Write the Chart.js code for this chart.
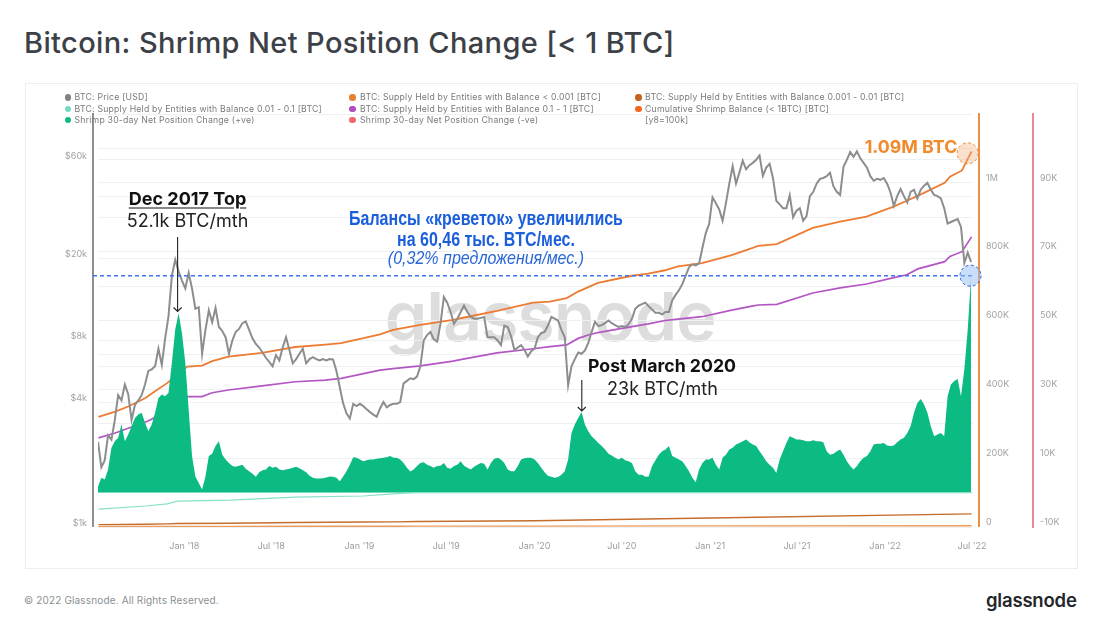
<!DOCTYPE html>
<html><head><meta charset="utf-8">
<script src="https://cdn.jsdelivr.net/npm/chart.js@4"></script>
<style>
html,body{margin:0;padding:0;background:#fff;}
body{width:1100px;height:634px;position:relative;overflow:hidden;font-family:Inter,sans-serif;}
.abs{position:absolute;white-space:nowrap;}
#chart{position:absolute;left:0;top:0;z-index:2;}
#over{position:absolute;left:0;top:0;z-index:3;}
.cx{transform:translate(-50%,-50%);z-index:4;}
.lg{font-size:8.7px;color:#7a7a7a;line-height:11px;z-index:4;letter-spacing:.024em;}
.dot{position:absolute;width:6.5px;height:6.5px;border-radius:50%;z-index:4;}
.blue{font-family:'Liberation Sans';font-weight:700;font-size:19.5px;color:#1b5fdc;}
</style></head><body>
<div class="abs" style="left:24px;top:25px;font-size:29px;font-weight:500;color:#3c4147;letter-spacing:.38px;">Bitcoin: Shrimp Net Position Change [&lt; 1 BTC]</div>
<div class="abs" style="left:25px;top:83px;width:1051px;height:484px;border:1px solid #eceef0;"></div>
<div class="abs" style="left:550px;top:316px;transform:translate(-50%,-50%);font-size:68px;font-weight:600;color:#dddddd;letter-spacing:-1px;z-index:1;">glassnode</div>
<canvas id="chart" width="1100" height="634" style="width:1100px;height:634px;"></canvas>
<svg id="over" width="1100" height="634">
  <line x1="93" y1="275.7" x2="972" y2="275.7" stroke="#3f74f0" stroke-width="1.6" stroke-dasharray="4 3"/>
  <circle cx="970.5" cy="275.7" r="10.5" fill="rgba(150,190,245,.5)" stroke="#2a5ce0" stroke-width="1" stroke-dasharray="3 2.5"/>
  <circle cx="967.7" cy="153.3" r="10.5" fill="rgba(245,180,130,.4)" stroke="#ea8a3c" stroke-width="1" stroke-dasharray="3 2.5"/>
  <g stroke="#222" stroke-width="1.1" fill="none">
    <path d="M177.6 237V311.5M173.6 307.5L177.6 311.5L181.6 307.5"/>
    <path d="M581.8 380V411M577.8 407L581.8 411L585.8 407"/>
  </g>
</svg>
<div class="abs cx" style="left:187.5px;top:198px;font-size:18px;font-weight:700;color:#111;text-decoration:underline;text-underline-offset:3px;">Dec 2017 Top</div>
<div class="abs cx" style="left:187.5px;top:219.5px;font-size:18px;color:#222;">52.1k BTC/mth</div>
<div class="abs cx blue" style="left:485.5px;top:218px;transform:translate(-50%,-50%) scaleX(.82);">Балансы «креветок» увеличились</div>
<div class="abs cx blue" style="left:485.5px;top:239px;transform:translate(-50%,-50%) scaleX(.82);">на 60,46 тыс. BTC/мес.</div>
<div class="abs cx" style="left:485.5px;top:258px;font-family:'Liberation Sans';font-size:18px;font-style:italic;color:#2a68d8;transform:translate(-50%,-50%) scaleX(.89);">(0,32% предложения/мес.)</div>
<div class="abs cx" style="left:911px;top:146px;font-size:17.8px;font-weight:700;color:#f08a2c;">1.09M BTC</div>
<div class="abs cx" style="left:662px;top:365px;font-size:17.7px;font-weight:700;color:#111;">Post March 2020</div>
<div class="abs cx" style="left:662.5px;top:387.5px;font-size:18px;color:#222;">23k BTC/mth</div>
<div class="abs" style="left:24px;top:594px;font-size:10px;color:#8a8f94;letter-spacing:.15px;">© 2022 Glassnode. All Rights Reserved.</div>
<div class="abs" style="left:986px;top:589px;font-size:18.5px;font-weight:600;color:#23272b;letter-spacing:-.2px;">glassnode</div>
<div id="legend"></div>
<script>
const startDate = "2017-07-05";
const stepDays = 7;

const priceUsd = [
2580,1950,2100,2780,2650,3290,4350,4100,4900,4400,
3300,3900,4100,4350,4900,5700,5800,6000,7300,6100,
8200,10500,16500,19700,17300,15600,14300,17000,14300,11400,
11600,6900,9000,11200,9800,11500,9300,8900,8300,6900,
8000,8800,9100,9700,9900,9000,8200,7700,7400,7000,
6600,6300,6000,6800,6400,7400,8300,7200,6200,6500,
6900,7300,6200,6500,6650,6500,6400,6500,6400,6500,
6480,5700,4750,3970,3550,3350,3950,3850,3950,3850,
3720,3600,3500,3420,3750,4030,3800,3900,3950,3950,
4030,4960,5100,5250,5200,5350,6000,8000,8500,8800,
8100,7900,9650,13000,12200,11000,9650,10200,11000,11800,
11000,10400,10200,10200,10300,10400,8300,8300,8300,8000,
7600,9450,9300,8400,7200,7400,7600,7200,6700,7100,
7300,8300,8700,8800,9450,10400,10200,10000,9000,8300,
4850,6000,6500,7000,6900,7160,7800,8800,9850,9400,
9500,9700,10000,9700,9500,9300,9400,9300,9600,10200,
11400,11800,12000,12200,11700,11300,10900,10900,10700,11000,
11000,12500,13300,14000,15000,16500,18100,18700,18500,18900,
22500,26500,29400,39500,37000,34500,30400,37000,46000,56000,
46000,52000,59400,54000,56500,58000,60000,63000,50200,55000,
57400,49000,38000,36500,35000,35000,40400,31600,34000,35000,
30400,32000,40000,42000,46000,48500,49000,50000,52000,44700,
42000,40600,55500,60000,65400,62000,66000,61000,58000,55000,
50000,47500,48500,48000,49000,46000,41700,35900,40000,43300,
40000,37300,42000,43000,39000,43000,45000,46400,43000,40600,
40000,39000,35000,29500,30000,30500,31000,28400,19000,21300,
19200];

const positiveChange = [
1.8,4.3,3.8,6.7,13,14.9,15.9,19.8,14.9,16.9,19.3,21.7,22.7,23.2,20.3,17.8,19.8,23.2,27.5,28.5,28,29,37.7,47.4,52.1,46.4,37.7,24.1,10.6,4.7,2.8,0.9,4.7,10.6,11.3,13.5,14.9,11,9.6,8.6,7.7,7.5,7.8,8.1,6.9,6.2,5.5,4.6,5.9,6.5,6.7,7.7,7.2,7.5,6.7,6.5,6.7,6.9,7.2,7.5,7.1,6.5,5.9,4.9,4.3,4.1,4.1,4.2,4.4,
4.7,4.6,4.3,3.3,4.7,6.2,8.1,10.3,10.1,9.6,9.1,9.4,9.6,9.6,9.8,10,10.1,10.3,10.6,10.1,10.1,9.6,8.6,7.2,6.1,6.7,7.7,8.6,8.8,8.1,7.7,7.2,7.7,7.8,8.6,7.2,6.9,7.7,8.1,9.1,7.8,7.2,6.7,7.5,8.1,8.6,8.4,6.7,8.6,9.8,10.1,9.6,8.6,6.7,6.2,6.2,7.7,9.6,10,10.1,10.1,9.6,8.6,7.2,5.9,
4.9,4.6,4.3,4.5,5.2,6.2,9.6,17.3,19.8,21.7,23.4,19.8,17.8,16.4,15.4,14.4,13.5,12.5,11.3,10.8,10.1,9.6,10.1,9.4,9.1,8.6,6.2,5.2,5.2,4.6,4.7,7.7,9.4,11,12,12.5,13.5,10.6,10.1,9.6,9.1,7.7,6.2,4.3,3,6.7,8.6,9.6,9.6,10.1,8.1,6.7,10.1,11,12.5,13,14,14.4,14.9,15.4,14.6,14,13.5,12,10.6,9.1,8.1,7.2,5.7,
9.6,12,14.4,16.4,15.9,15.4,15.4,15.2,14.9,14.9,15.2,14.9,14.9,14.6,12,11,11.3,12,12.5,11,9.1,7.7,6.7,7.7,9.1,10.1,10.6,12,14,14.2,14.2,14.4,13.7,13.5,13.7,14.6,15.4,15.9,17.3,19.3,23.2,26,27.2,25.6,23.2,19.3,16.4,16.9,17.3,16.4,28,31.4,32.4,33,28,35.8,47.4,62.9];

const negativeChange = [];

const supplyDates = ["2017-07-06","2017-08-10","2017-09-06","2017-10-12","2017-10-22","2017-11-26","2018-01-07","2018-02-07","2018-02-28","2018-04-03","2018-06-12","2018-08-20","2018-10-22","2018-11-24","2019-02-13","2019-03-12","2019-05-08","2019-07-15","2019-08-05","2019-10-15","2019-12-29","2020-02-02","2020-03-08","2020-04-01","2020-04-22","2020-05-12","2020-07-22","2020-08-25","2020-09-29","2020-10-26","2020-12-15","2021-02-15","2021-03-29","2021-04-11","2021-05-20","2021-08-03","2021-09-29","2021-11-23","2022-01-17","2022-02-15","2022-03-10","2022-05-05","2022-05-16","2022-06-10","2022-06-30"];
const cumulativeShrimp = [320,335,350,375,385,418,466,469,482,495,506,523,530,534,560,573,587,602,608,628,652,655,665,684,697,709,730,736,746,757,767,790,810,817,822,869,887,902,930,948,962,1000,1018,1036,1091];
const supply01to1 = [259,273,287,305,311,340,379,379,390,398,410,422,427,432,456,460,468,482,488,506,518,524,529,548,558,565,582,590,600,604,611,630,642,645,647,680,695,706,724,733,750,771,786,800,843];

const smallDates = ["2017-07-06","2017-10-12","2017-11-26","2017-12-17","2018-04-07","2018-08-20","2019-01-09","2019-03-20","2019-05-01","2020-01-01","2021-01-01","2022-06-30"];
const supply001to01 = [52,61,67,75,78,87,90,97,100,100,100,100];
const supply0001to001 = [7,8,9,10,11,13,14.5,15,16,18,26,38];
const supplyBelow0001 = [1.5,1.6,1.7,1.8,1.9,2,2.2,2.3,2.4,2.6,3.2,3.8];

const priceTicks = [1000,4000,8000,20000,60000];
const priceGrid = [6000,40000];
const supplyTicks = [0,100,200,300,400,500,600,700,800,900,1000,1100,1200];
const changeTicks = [-10,10,30,50,70,90];
const timeTicks = ["2018-01-01","2018-07-01","2019-01-01","2019-07-01","2020-01-01","2020-07-01","2021-01-01","2021-07-01","2022-01-01","2022-07-01"];
const timeLabels = ["Jan '18","Jul '18","Jan '19","Jul '19","Jan '20","Jul '20","Jan '21","Jul '21","Jan '22","Jul '22"];

const legendItems = [
 ["BTC: Price [USD]","#808283",68,74.5,97.7],
 ["BTC: Supply Held by Entities with Balance < 0.001 [BTC]","#e8812f",352.5,360,97.7],
 ["BTC: Supply Held by Entities with Balance 0.001 - 0.01 [BTC]","#c4621e",638.5,645,97.7],
 ["BTC: Supply Held by Entities with Balance 0.01 - 0.1 [BTC]","#74d9c0",68,74.5,109],
 ["BTC: Supply Held by Entities with Balance 0.1 - 1 [BTC]","#b24ac2",352.5,360,109],
 ["Cumulative Shrimp Balance (< 1BTC) [BTC]","#f2681f",638.5,645,109],
 ["Shrimp 30-day Net Position Change (+ve)","#0dbb83",68,74.5,120],
 ["Shrimp 30-day Net Position Change (-ve)","#f0686c",352.5,360,120],
 ["[y8=100k]",null,null,645,120]
];

const T = s => Date.parse(s + "T00:00:00Z");
const weekly = arr => arr.map((v,i)=>({x:T(startDate)+i*stepDays*864e5,y:v}));
const dated = (d,arr,k) => arr.map((v,i)=>({x:T(d[i]),y:v*k}));

const lg = document.getElementById('legend');
legendItems.forEach(([t,c,dx,tx,y])=>{
  if(c){const d=document.createElement('div');d.className='dot';d.style.cssText+=`left:${dx-3.25}px;top:${y-3.25}px;background:${c}`;lg.appendChild(d);}
  const e=document.createElement('div');e.className='abs lg';e.textContent=t;e.style.left=tx+'px';e.style.top=(y-5.5)+'px';lg.appendChild(e);
});

const line = (label,data,color,axis,order,w) => ({label,data,borderColor:color,backgroundColor:color,borderWidth:w,pointRadius:0,tension:0,yAxisID:axis,order,fill:false});

const rails = {id:'rails',afterDatasetsDraw(c){
  const g=c.ctx,a=c.chartArea;g.save();
  g.lineWidth=2;g.strokeStyle='#8d8f91';g.beginPath();g.moveTo(93,a.top-1);g.lineTo(93,a.bottom);g.stroke();
  g.strokeStyle='#ea9148';g.beginPath();g.moveTo(979,a.top-1);g.lineTo(979,a.bottom);g.stroke();
  g.restore();
}};

new Chart(document.getElementById('chart'),{
 type:'line',
 data:{datasets:[
  line("Cumulative Shrimp Balance (< 1BTC) [BTC]",dated(supplyDates,cumulativeShrimp,1),"#ed7b32","ySupply",6,1.8),
  line("BTC: Supply Held by Entities with Balance 0.1 - 1 [BTC]",dated(supplyDates,supply01to1,1),"#b455c4","ySupply",6,1.7),
  line("BTC: Price [USD]",weekly(priceUsd),"#8c8d8e","yPrice",5,2),
  {label:"Shrimp 30-day Net Position Change (+ve)",data:weekly(positiveChange),borderWidth:0,borderColor:"#0cbb83",backgroundColor:"#0cbb83",pointRadius:0,tension:0,yAxisID:"yChange",order:4,fill:'origin'},
  line("Shrimp 30-day Net Position Change (-ve)",weekly(negativeChange),"#f0686c","yChange",4,1),
  line("BTC: Supply Held by Entities with Balance 0.01 - 0.1 [BTC]",dated(smallDates,supply001to01,1),"#86dfc9","ySupply",3,1.2),
  line("BTC: Supply Held by Entities with Balance 0.001 - 0.01 [BTC]",dated(smallDates,supply0001to001,1),"#c56d2c","ySupply",2,1.4),
  line("BTC: Supply Held by Entities with Balance < 0.001 [BTC]",dated(smallDates,supplyBelow0001,1),"#ee9a58","ySupply",1,1.4)
 ]},
 plugins:[rails],
 options:{
  responsive:false,animation:false,devicePixelRatio:1,
  layout:{padding:{top:114,left:0,right:0,bottom:0}},
  plugins:{legend:{display:false},tooltip:{enabled:false}},
  scales:{
   x:{type:'linear',min:T("2017-07-05"),max:T("2022-07-03"),
      grid:{display:false},border:{display:false},
      afterBuildTicks:s=>{s.ticks=timeTicks.map(t=>({value:T(t)}));},
      afterFit:s=>{s.height=107;},
      ticks:{autoSkip:false,maxRotation:0,padding:6,color:'#9a9c9e',font:{family:'Inter',size:9},
        callback:v=>timeLabels[timeTicks.findIndex(t=>T(t)===v)]}},
   yPrice:{type:'logarithmic',position:'left',min:1000,max:100000,
      grid:{color:'#eff0f1',lineWidth:1,drawTicks:false},border:{display:false},
      afterBuildTicks:s=>{s.ticks=priceTicks.concat(priceGrid).map(v=>({value:v}));},
      afterFit:s=>{s.width=98;},
      ticks:{padding:11,labelOffset:-4,color:'#a0a2a4',font:{family:'Inter',size:9},
        callback:v=>priceTicks.includes(v)?('$'+v/1000+'k'):''}},
   ySupply:{type:'linear',position:'right',min:0,max:1200,
      grid:{color:'#eff0f1',lineWidth:1,drawTicks:false},border:{display:false},
      afterBuildTicks:s=>{s.ticks=supplyTicks.map(v=>({value:v}));},
      afterFit:s=>{s.width=60;},
      ticks:{padding:13,labelOffset:-5,color:'#a0a2a4',font:{family:'Inter',size:9},
        callback:v=>(v%200||v>1000)?'':(v===0?'0':(v===1000?'1M':v+'K'))}},
   yChange:{type:'linear',position:'right',min:-10,max:110,
      grid:{display:false,drawTicks:false},border:{display:true,color:'#ec8a8c',width:2},
      afterBuildTicks:s=>{s.ticks=changeTicks.map(v=>({value:v}));},
      afterFit:s=>{s.width=67;},
      ticks:{padding:7,labelOffset:-5,color:'#a0a2a4',font:{family:'Inter',size:9},
        callback:v=>(v<0?'-':'')+Math.abs(v)+'K'}}
  }
 }
});
</script>
</body></html>
